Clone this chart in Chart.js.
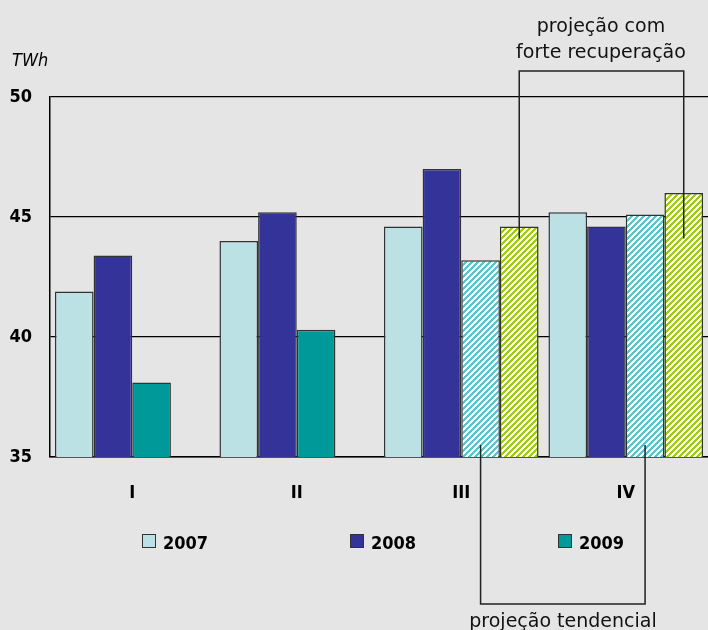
<!DOCTYPE html>
<html>
<head>
<meta charset="utf-8">
<script src="https://cdn.jsdelivr.net/npm/chart.js@4"></script>
<style>
  body { margin: 0; }
  #wrap { position: relative; width: 708px; height: 630px; background: #e5e5e5; overflow: hidden;
    font-family: "DejaVu Sans Condensed", "DejaVu Sans", sans-serif; font-stretch: condensed; color: #000; }
  #chart { position: absolute; left: 0; top: 0; }
  .unit { position: absolute; left: 12px; top: 50px; font-size: 18px; line-height: 20px; font-style: italic; }
  .note { position: absolute; width: 240px; text-align: center; font-family: "DejaVu Sans", sans-serif;
    font-stretch: normal; font-size: 19px; line-height: 26px; color: #111; }
  .legend-item { position: absolute; top: 533px; font-size: 18px; line-height: 20px; font-weight: bold; }
  .legend-item i { position: absolute; top: 1px; width: 12px; height: 12px; border: 1px solid #333; }
</style>
</head>
<body>
<div id="wrap">
  <canvas id="chart" width="708" height="630"></canvas>
  <div class="unit">TWh</div>
  <div class="note" style="left:481px; top:12px;">projeção com<br>forte recuperação</div>
  <div class="note" style="left:443px; top:607px;">projeção tendencial</div>
  <div id="legend"></div>
</div>
<script>
const quarters = ["I", "II", "III", "IV"];
const v2007 = [41.9, 44.0, 44.6, 45.2];
const v2008 = [43.4, 45.2, 47.0, 44.6];
const v2009 = [38.1, 40.3, null, null];
const projTendencial = [null, null, 43.2, 45.1];
const projForte = [null, null, 44.6, 46.0];
const yTicks = [35, 40, 45, 50];

// where the bracket leaders end inside the projected bars
const forteLeaderValue = 44.1;
const tendLeaderValue = 35.5;

const FONT = "'DejaVu Sans Condensed', 'DejaVu Sans', sans-serif";
const canvas = document.getElementById("chart");
const ctx = canvas.getContext("2d");

function stripes(color) {
  const t = document.createElement("canvas");
  t.width = 6;
  t.height = 6;
  const g = t.getContext("2d");
  g.fillStyle = "#ffffff";
  g.fillRect(0, 0, 6, 6);
  g.fillStyle = color;
  for (let x = 0; x < 6; x++) {
    for (let y = 0; y < 6; y++) {
      if ((x + y) % 6 < 3) g.fillRect(x, y, 1, 1);
    }
  }
  return ctx.createPattern(t, "repeat");
}

const legendItems = [
  { label: "2007", color: "#bce1e4", left: 142 },
  { label: "2008", color: "#333399", left: 350 },
  { label: "2009", color: "#009999", left: 558 },
];
document.getElementById("legend").innerHTML = legendItems
  .map((it) => `<div class="legend-item" style="left:${it.left}px"><i style="background:${it.color}"></i><span style="margin-left:21px">${it.label}</span></div>`)
  .join("");

const brackets = {
  id: "brackets",
  afterDatasetsDraw(chart) {
    const { ctx, chartArea, scales } = chart;
    const y = scales.y;
    const forte = chart.getDatasetMeta(4).data;
    const tend = chart.getDatasetMeta(3).data;
    ctx.save();
    ctx.strokeStyle = "#222";
    ctx.lineWidth = 1.5;

    // top: projeção com forte recuperação
    const topY = chartArea.top - 26;
    const fy = y.getPixelForValue(forteLeaderValue);
    ctx.beginPath();
    ctx.moveTo(forte[2].x, fy);
    ctx.lineTo(forte[2].x, topY);
    ctx.lineTo(forte[3].x, topY);
    ctx.lineTo(forte[3].x, fy);
    ctx.stroke();

    // bottom: projeção tendencial
    const botY = chartArea.bottom + 147;
    const ty = y.getPixelForValue(tendLeaderValue);
    ctx.beginPath();
    ctx.moveTo(tend[2].x, ty);
    ctx.lineTo(tend[2].x, botY);
    ctx.lineTo(tend[3].x, botY);
    ctx.lineTo(tend[3].x, ty);
    ctx.stroke();
    ctx.restore();
  },
};

const barBase = { borderWidth: 1.5, borderColor: "#333", borderSkipped: "bottom", barPercentage: 1, categoryPercentage: 0.94 };

new Chart(canvas, {
  type: "bar",
  data: {
    labels: quarters,
    datasets: [
      { ...barBase, label: "2007", data: v2007, stack: "a", backgroundColor: "#bce1e4" },
      { ...barBase, label: "2008", data: v2008, stack: "b", backgroundColor: "#333399" },
      { ...barBase, label: "2009", data: v2009, stack: "c", backgroundColor: "#009999" },
      { ...barBase, label: "projeção tendencial", data: projTendencial, stack: "c", backgroundColor: stripes("#5cc3c7") },
      { ...barBase, label: "projeção com forte recuperação", data: projForte, stack: "d", backgroundColor: stripes("#9ccc14") },
    ],
  },
  options: {
    responsive: false,
    animation: false,
    layout: { padding: { top: 97, right: 0, bottom: 0, left: 0 } },
    plugins: { legend: { display: false }, tooltip: { enabled: false } },
    scales: {
      x: {
        grid: { display: false, drawTicks: false },
        border: { display: true, color: "#000", width: 1.5 },
        ticks: { padding: 26, color: "#000", font: { family: FONT, size: 18, weight: "bold" } },
        afterFit: (s) => { s.height = 630 - 97 - 360; },
      },
      y: {
        min: 35,
        max: 50,
        afterBuildTicks: (s) => { s.ticks = yTicks.map((v) => ({ value: v })); },
        grid: { color: "#000", lineWidth: 1.2, drawTicks: false },
        border: { display: true, color: "#000", width: 1.5 },
        ticks: { padding: 18, color: "#000", font: { family: FONT, size: 18, weight: "bold" } },
        afterFit: (s) => { s.width = 50; },
      },
    },
  },
  plugins: [brackets],
});
</script>
</body>
</html>
